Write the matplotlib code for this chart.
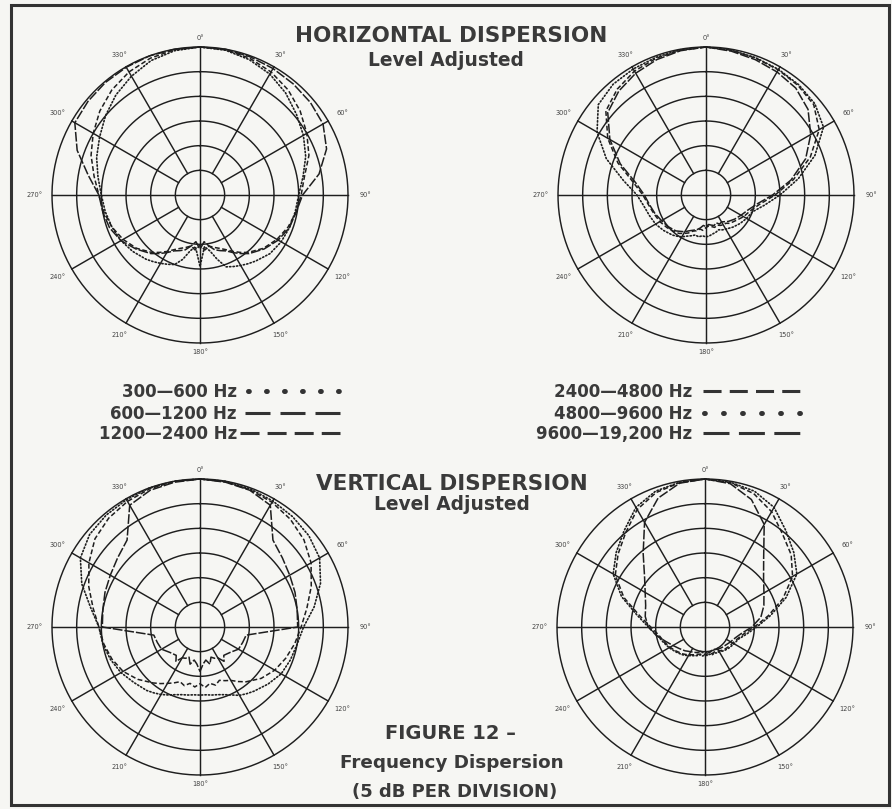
import numpy as np
import matplotlib
matplotlib.use("Agg")
import matplotlib.pyplot as plt
from matplotlib.lines import Line2D
from matplotlib.patches import Rectangle

plt.rcParams['font.family'] = ['DejaVu Sans']
plt.rcParams['lines.scale_dashes'] = False

# ---------------- data (level in dB above the -30 dB plot centre; 5 dB / ring) ----------------
ANGLES_DEG = [0, 10, 20, 30, 40, 50, 60, 70, 80, 90, 100, 110, 120, 130, 140,
              145, 150, 155, 160, 165, 170, 175, 180, 185, 190, 195, 200, 205, 210, 215,
              220, 230, 240, 250, 260, 270, 280, 290, 300, 310, 320, 330, 340, 350]

# Horizontal dispersion, low bands
H_300_600 = [30, 29.8, 29.2, 28.3, 27, 25.5, 24.2, 22.8, 21.2, 20, 19.6, 19.3, 19, 18.5, 17.5,
             17, 16.5, 16, 15.5, 13.5, 11.5, 10.5, 14.5, 10.5, 11.5, 13.5, 15, 15.5, 16, 16.5,
             17, 17.8, 18.5, 19, 19.5, 20, 21, 22.3, 23.5, 25, 26.5, 27.8, 29, 29.7]
H_600_1200 = [30, 30, 29.8, 29.6, 29.4, 29.2, 28.8, 27.3, 24.5, 20.8, 19.8, 19.3, 18.3, 17, 15.5,
              14.5, 13.5, 12.5, 12, 11.5, 10.5, 9.5, 11, 9.5, 10.5, 11.5, 12, 12.5, 13.5, 14.5,
              15.5, 17, 18.5, 19.5, 20, 20.5, 23, 26.5, 29.3, 29.6, 29.8, 29.9, 30, 30]
H_1200_2400 = [30, 29.9, 29.5, 28.8, 27.8, 26.5, 25, 23.5, 21.5, 20.5, 19.8, 19, 18, 16.8, 15.2,
               14.2, 13.2, 12.2, 11.5, 11, 10.5, 11.2, 10.2, 11.2, 10.5, 11, 11.5, 12.2, 13.2, 14.2,
               15.2, 16.8, 18, 19, 19.8, 20.5, 21.8, 23.5, 25, 26.5, 27.8, 28.8, 29.5, 29.9]

# Horizontal dispersion, high bands
H_2400_4800 = [30, 29.8, 29.5, 29.3, 29, 28.5, 26.5, 22.5, 18, 14, 11, 9.5, 8.8, 8, 7.5,
               7, 7, 6.8, 6.5, 6.8, 6.5, 6.3, 6.6, 7.2, 7.0, 7.5, 7.8, 8.5, 9, 9.5,
               9.8, 10.3, 10.8, 11.2, 11.8, 12.8, 15, 19, 23, 26.5, 28, 29, 29.5, 29.8]
H_4800_9600 = [30, 29.8, 29.6, 29.4, 29.2, 28.8, 27.5, 23.5, 19, 15, 12, 10, 9.5, 9, 8.5,
               8.2, 8, 7.8, 7.5, 7.8, 8, 8.3, 8.5, 8.3, 8.6, 8.4, 8.8, 9.2, 9.8, 10.2,
               10.6, 11.2, 11.8, 12.2, 12.8, 14, 17, 21.5, 25.5, 28.5, 29.3, 29.5, 29.7, 29.9]
H_9600_19200 = [30, 29.6, 29.2, 28.8, 28.3, 27, 24.5, 21.5, 17.5, 13.5, 10.5, 9.0, 8.2, 7.6, 7.0,
                6.6, 6.3, 6.5, 6.0, 6.4, 6.2, 6.0, 6.4, 6.2, 6.8, 7.3, 7.6, 8.0, 8.6, 9.0,
                9.5, 10, 10.4, 11, 11.6, 12.5, 14.5, 18.5, 22.5, 26, 27.5, 28.5, 29.2, 29.7]

# Vertical dispersion, low bands
V_300_600 = [30, 30, 29.8, 29.5, 29.2, 28.8, 28, 26, 23.5, 21, 20, 19.5, 19, 18, 17,
             16.5, 16, 15.2, 14.6, 14.2, 14, 13.8, 13.8, 13.8, 14, 14.2, 14.6, 15.2, 15.8, 16.3,
             16.8, 17.5, 18.5, 19.3, 20, 20.5, 22.5, 25.5, 28, 29.2, 29.6, 29.8, 30, 30]
V_600_1200 = [30, 29.8, 29.5, 28.5, 23, 21.8, 21, 20.5, 20, 19.8, 9.5, 9.2, 9.0, 8.0, 7.5,
              8.5, 7.2, 7.0, 6.5, 7.8, 6.8, 7.5, 9.0, 7.5, 6.8, 7.8, 6.5, 7.0, 7.2, 8.5,
              7.5, 8.0, 9.0, 9.2, 9.5, 19.8, 20, 20.5, 21, 21.8, 23, 28.5, 29.5, 29.8]
V_1200_2400 = [30, 29.9, 29.6, 29.2, 28.5, 27.5, 26, 24, 22, 20.5, 19.5, 18.5, 17.5, 16.2, 14.5,
               13.5, 12.5, 12, 11.5, 12.2, 11.6, 12.3, 11.5, 12.2, 11.6, 12.3, 11.8, 12.5, 13.2, 14,
               14.8, 16.5, 18, 19, 19.8, 20.5, 22, 24, 26, 27.8, 28.8, 29.4, 29.8, 30]

# Vertical dispersion, high bands
V_2400_4800 = [30, 29.7, 28.8, 27, 24.5, 22.8, 20.5, 16.8, 13, 10, 8.0, 7.0, 6.5, 6.2, 6.0,
               5.8, 5.6, 5.5, 5.4, 5.6, 5.4, 5.5, 5.6, 5.5, 5.6, 5.7, 6.0, 6.2, 6.5, 6.8,
               7.1, 7.6, 8.2, 8.8, 9.5, 11, 13.5, 17.5, 21, 23, 25, 27.5, 29, 29.7]
V_4800_9600 = [30, 29.8, 29.3, 28, 25.5, 23.5, 21.5, 17.5, 13.5, 10.5, 8.5, 7.2, 6.8, 6.5, 6.2,
               6.0, 5.8, 5.8, 5.6, 5.8, 5.6, 5.8, 5.7, 5.9, 5.7, 6.0, 6.2, 6.4, 6.7, 7.0,
               7.3, 7.8, 8.4, 9.0, 9.8, 11.5, 14, 18, 21.5, 23.5, 25.5, 28, 29.3, 29.8]
V_9600_19200 = [30, 29.5, 27.5, 24, 18.5, 15.5, 13.8, 12.7, 11.5, 9.5, 7.5, 6.5, 6.0, 5.6, 5.4,
                5.3, 5.2, 5.0, 4.8, 5.0, 5.3, 5.0, 5.5, 5.2, 5.0, 5.3, 5.5, 5.6, 5.8, 6.0,
                6.3, 6.8, 7.5, 8.5, 10, 11.5, 12.3, 12.8, 14, 16, 19.5, 24.5, 27.8, 29.6]

LOW_LABELS = ["300\u2014600 Hz", "600\u20141200 Hz", "1200\u20142400 Hz"]
HIGH_LABELS = ["2400\u20144800 Hz", "4800\u20149600 Hz", "9600\u201419,200 Hz"]
TICK_ANGLES = [0, 30, 60, 90, 120, 150, 180, 210, 240, 270, 300, 330]
RINGS = [5, 10, 15, 20, 25, 30]

# ---------------- styling ----------------
W, H = 892, 809
INK = '#1e1e1e'
TXT = '#3a3a3a'
BG = '#f6f6f3'

STYLE_DOT = dict(linestyle=(0, (0.9, 1.6)), lw=1.2, dash_capstyle='round')
STYLE_LONG = dict(linestyle=(0, (7, 1.4)), lw=1.1)
STYLE_DASH = dict(linestyle=(0, (3.5, 1.8)), lw=1.1)

fig = plt.figure(figsize=(W / 100, H / 100), dpi=100)
fig.patch.set_facecolor(BG)

R_PX = 148


def make_polar(cx, cy):
    ax = fig.add_axes([(cx - R_PX) / W, 1 - (cy + R_PX) / H, 2 * R_PX / W, 2 * R_PX / H],
                      projection='polar')
    ax.set_theta_zero_location('N')
    ax.set_theta_direction(-1)
    ax.set_ylim(0, 30)
    ax.axis('off')
    t = np.linspace(0, 2 * np.pi, 400)
    for r in RINGS:
        ax.plot(t, np.full_like(t, r), color=INK, lw=1.05, clip_on=False)
    for a in TICK_ANGLES:
        r0 = 0 if a % 90 == 0 else RINGS[0]
        ax.plot([np.deg2rad(a)] * 2, [r0, RINGS[-1]], color=INK, lw=1.05, clip_on=False)
        rl = 31.9 + 1.6 * abs(np.sin(np.deg2rad(a)))
        ax.text(np.deg2rad(a), rl, f"{a}\u00b0", fontsize=4.8, color='#444444',
                ha='center', va='center', clip_on=False)
    return ax


def draw_curve(ax, values, style):
    th = np.deg2rad(ANGLES_DEG + [360])
    rv = list(values) + [values[0]]
    ax.plot(th, rv, color=INK, clip_on=False, **style)


ax1 = make_polar(200, 195)
draw_curve(ax1, H_300_600, STYLE_DOT)
draw_curve(ax1, H_600_1200, STYLE_LONG)
draw_curve(ax1, H_1200_2400, STYLE_DASH)

ax2 = make_polar(706, 195)
draw_curve(ax2, H_2400_4800, STYLE_DASH)
draw_curve(ax2, H_4800_9600, STYLE_DOT)
draw_curve(ax2, H_9600_19200, STYLE_LONG)

ax3 = make_polar(200, 627)
draw_curve(ax3, V_300_600, STYLE_DOT)
draw_curve(ax3, V_600_1200, STYLE_LONG)
draw_curve(ax3, V_1200_2400, STYLE_DASH)

ax4 = make_polar(705, 627)
draw_curve(ax4, V_2400_4800, STYLE_DASH)
draw_curve(ax4, V_4800_9600, STYLE_DOT)
draw_curve(ax4, V_9600_19200, STYLE_LONG)


# ---------------- text ----------------
def ftext(x, y, s, size, **kw):
    fig.text(x / W, 1 - y / H, s, fontsize=size, fontweight='bold', color=TXT,
             va='baseline', **kw)


ftext(451, 42, "HORIZONTAL DISPERSION", 15.5, ha='center')
ftext(446, 66, "Level Adjusted", 13.4, ha='center')
ftext(452, 490, "VERTICAL DISPERSION", 15.5, ha='center')
ftext(452, 510, "Level Adjusted", 13.4, ha='center')
ftext(450, 739, "FIGURE 12 \u2013", 14, ha='center')
ftext(452, 768, "Frequency Dispersion", 13.2, ha='center')
ftext(455, 797, "(5 dB PER DIVISION)", 13, ha='center')

# ---------------- legend ----------------
ROW_BASE = [397, 419, 439]
LEG_LOW = [  # (x0, x1, style)
    (248, 340, dict(linestyle=(0, (0.6, 12.36)), lw=3.6, dash_capstyle='round')),
    (245, 340, dict(linestyle=(0, (18, 7.2)), lw=2.2)),
    (240, 340, dict(linestyle=(0, (13.7, 5.8)), lw=2.2)),
]
LEG_HIGH = [
    (703, 800, dict(linestyle=(0, (13, 5.9)), lw=2.2)),
    (704, 800, dict(linestyle=(0, (0.6, 13.1)), lw=3.6, dash_capstyle='round')),
    (703, 800, dict(linestyle=(0, (18.7, 6.8)), lw=2.2)),
]


def legend_block(text_right, labels, rows):
    for yb, lab, (x0, x1, st) in zip(ROW_BASE, labels, rows):
        ftext(text_right, yb, lab, 12, ha='right')
        yc = 1 - (yb - 6) / H
        fig.add_artist(Line2D([x0 / W, x1 / W], [yc, yc], transform=fig.transFigure,
                              color='#333333', **st))


legend_block(237, LOW_LABELS, LEG_LOW)
legend_block(692, HIGH_LABELS, LEG_HIGH)

# ---------------- frame ----------------
fig.add_artist(Rectangle((11 / W, 1 - 805 / H), (889 - 11) / W, (805 - 5) / H,
                         transform=fig.transFigure, fill=False, edgecolor='#333333', lw=2.2))

fig.savefig("out.png", dpi=100, facecolor=BG)
